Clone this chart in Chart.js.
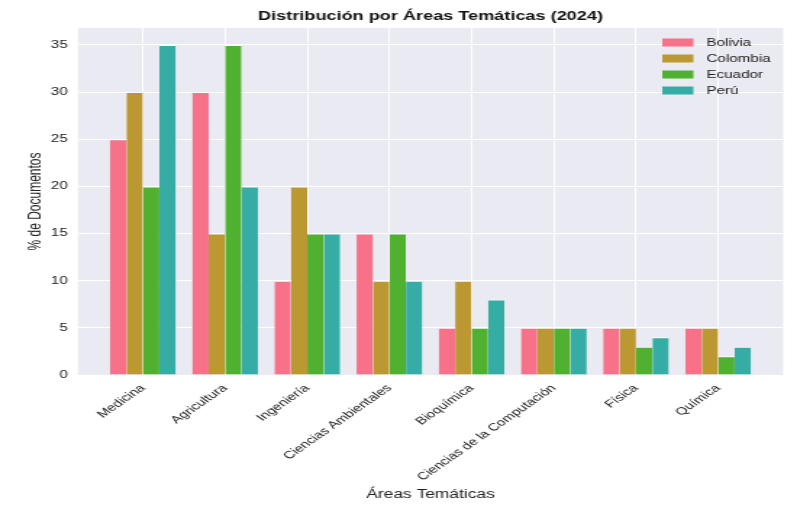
<!DOCTYPE html>
<html><head><meta charset="utf-8">
<script src="https://cdn.jsdelivr.net/npm/chart.js@4/dist/chart.umd.min.js"></script>
<style>html,body{margin:0;padding:0;background:#fff;overflow:hidden}</style>
</head><body>
<canvas id="c" width="550" height="512" style="width:797px;height:512px;display:block"></canvas>
<script>
const categories = ["Medicina","Agricultura","Ingeniería","Ciencias Ambientales","Bioquímica","Ciencias de la Computación","Física","Química"];
const bolivia  = [25,30,10,15,5,5,5,5];
const colombia = [30,15,20,10,10,5,5,5];
const ecuador  = [20,35,15,15,5,5,3,2];
const peru     = [35,20,15,10,8,5,4,3];
const seriesNames = ["Bolivia","Colombia","Ecuador","Perú"];
const seriesColors = ["#f77189","#bb9832","#50b131","#36ada4"];
const yTicks = [0,5,10,15,20,25,30,35];

const FONT = "'Liberation Sans', Arial, sans-serif";
const allSeries = [bolivia, colombia, ecuador, peru];
const datasets = allSeries.map((arr, s) => ({
  label: seriesNames[s],
  data: arr.map((v, i) => ({x: i, y: v})),
  backgroundColor: seriesColors[s],
  borderColor: '#ffffff',
  borderWidth: {top: 1, left: 0, right: 0, bottom: 0},
  borderSkipped: 'bottom',
  categoryPercentage: 0.8,
  barPercentage: 1.0
}));

const bgPlugin = {
  id: 'bg',
  beforeDraw(chart) {
    const {ctx, chartArea: a} = chart;
    ctx.save();
    ctx.fillStyle = '#ffffff';
    ctx.fillRect(0, 0, chart.width, chart.height);
    ctx.fillStyle = '#eaeaf2';
    ctx.fillRect(a.left, a.top, a.right - a.left, a.bottom - a.top);
    ctx.restore();
  }
};
const legendPlugin = {
  id: 'customLegend',
  afterDraw(chart) {
    const ctx = chart.ctx;
    ctx.save();
    ctx.font = "10.5px " + FONT;
    ctx.textBaseline = 'middle';
    chart.data.datasets.forEach((ds, i) => {
      const y = 42.5 + i * 16;
      ctx.fillStyle = ds.backgroundColor;
      ctx.fillRect(457, y - 4, 21.5, 8);
      ctx.fillStyle = '#222';
      ctx.fillText(ds.label, 487.5, y + 0.5);
    });
    ctx.restore();
  }
};

new Chart(document.getElementById('c'), {
  type: 'bar',
  data: { datasets },
  plugins: [bgPlugin, legendPlugin],
  options: {
    responsive: false,
    animation: false,
    devicePixelRatio: 1,
    layout: { padding: { left: 0, right: 9.6, top: 0, bottom: 0 } },
    plugins: {
      legend: { display: false },
      tooltip: { enabled: false },
      title: {
        display: true, fullSize: false,
        text: 'Distribución por Áreas Temáticas (2024)',
        font: { family: FONT, size: 12.5, weight: 'bold' }, color: '#111',
        padding: { top: 9.5, bottom: 3.5 }
      }
    },
    scales: {
      x: {
        type: 'linear', min: -0.79, max: 7.79, offset: false,
        afterBuildTicks(scale) { scale.ticks = categories.map((c, i) => ({value: i})); },
        afterFit(scale) { scale.height = 137; },
        ticks: {
          callback: (v) => categories[v] ?? '',
          minRotation: 45, maxRotation: 45, autoSkip: false,
          font: { family: FONT, size: 10.5 }, color: '#222', padding: 7
        },
        grid: { color: '#ffffff', lineWidth: 1, drawTicks: false, offset: false },
        border: { display: false },
        title: { display: true, text: 'Áreas Temáticas', font: { family: FONT, size: 12 }, color: '#222', padding: { top: 0, bottom: 10 } }
      },
      y: {
        min: 0, max: 36.8,
        afterBuildTicks(scale) { scale.ticks = yTicks.map(v => ({value: v})); },
        afterFit(scale) { scale.width = 53.8; },
        ticks: { font: { family: FONT, size: 10.5 }, color: '#222', padding: 7 },
        grid: { color: '#ffffff', lineWidth: 1, drawTicks: false },
        border: { display: false },
        title: { display: true, text: '% de Documentos', font: { family: FONT, size: 12 }, color: '#222', padding: { top: 17, bottom: 0 } }
      }
    }
  }
});
</script></body></html>
